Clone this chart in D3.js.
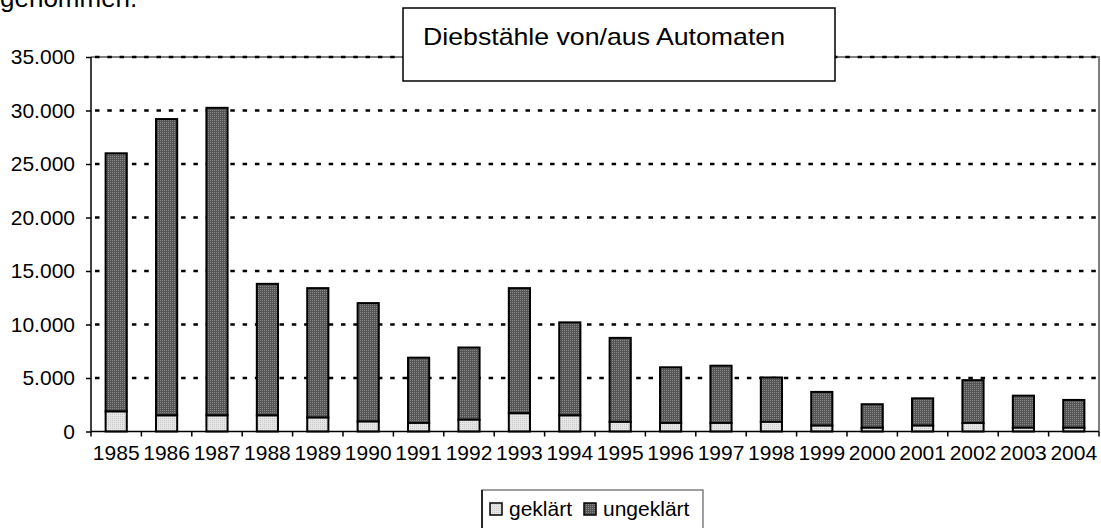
<!DOCTYPE html>
<html>
<head>
<meta charset="utf-8">
<script src="https://cdn.jsdelivr.net/npm/d3@7"></script>
<style>
  body { margin: 0; background: #fff; }
  text { font-family: "Liberation Sans", Arial, sans-serif; }
</style>
</head>
<body>
<div id="chart"></div>
<script>
// Werte
var years = ["1985","1986","1987","1988","1989","1990","1991","1992","1993","1994",
             "1995","1996","1997","1998","1999","2000","2001","2002","2003","2004"];
var geklaert = [1870, 1500, 1500, 1500, 1300, 930, 800, 1100, 1700, 1500,
                900, 800, 800, 900, 550, 350, 550, 800, 350, 350];
var gesamt = [26000, 29200, 30250, 13800, 13400, 12000, 6900, 7850, 13400, 10200,
              8750, 6000, 6150, 5050, 3700, 2550, 3100, 4800, 3350, 2950];
var yTicks = [0, 5000, 10000, 15000, 20000, 25000, 30000, 35000];
var seriesNames = ["geklärt", "ungeklärt"];

var svgWidth = 1101;
var svgHeight = 528;
var plotLeft = 91;
var plotRight = 1099;
var plotTop = 57;
var plotBottom = 431.5;

var svg = d3.select("#chart")
    .append("svg")
    .attr("width", svgWidth)
    .attr("height", svgHeight);

// Schraffuren
var defs = svg.append("defs");
var pDark = defs.append("pattern").attr("id", "dark")
    .attr("width", 2).attr("height", 2).attr("patternUnits", "userSpaceOnUse");
pDark.append("rect").attr("width", 2).attr("height", 2).attr("fill", "#555");
pDark.append("rect").attr("width", 1).attr("height", 1).attr("fill", "#8a8a8a");
var pLight = defs.append("pattern").attr("id", "light")
    .attr("width", 2).attr("height", 2).attr("patternUnits", "userSpaceOnUse");
pLight.append("rect").attr("width", 2).attr("height", 2).attr("fill", "#e6e6e6");
pLight.append("rect").attr("width", 1).attr("height", 1).attr("fill", "#c8c8c8");

var xScale = d3.scaleBand()
    .domain(years)
    .range([plotLeft, plotRight])
    .paddingInner(0.58)
    .paddingOuter(0.29);

var yScale = d3.scaleLinear()
    .domain([0, 35000])
    .range([plotBottom, plotTop]);

// Text oben links (im Original abgeschnitten)
svg.append("text")
    .attr("x", 0)
    .attr("y", 7)
    .attr("font-size", "26px")
    .attr("fill", "#000")
    .text("genommen.");

// Rahmen oben/rechts
svg.append("path")
    .attr("d", `M${plotLeft},${plotTop}H${plotRight}V${plotBottom}`)
    .attr("fill", "none")
    .attr("stroke", "#808080")
    .attr("stroke-width", 2);

// Gitterlinien
svg.append("g").selectAll("line")
    .data(yTicks.filter(d => d > 0))
    .enter()
    .append("line")
    .attr("x1", plotLeft + 4)
    .attr("x2", plotRight)
    .attr("y1", d => yScale(d))
    .attr("y2", d => yScale(d))
    .attr("stroke", "#000")
    .attr("stroke-width", 2.5)
    .attr("stroke-dasharray", "4.5,7.8");

// Balken
var stacked = years.map((y, i) => ({year: y, a: geklaert[i], total: gesamt[i]}));

var bars = svg.append("g");
bars.selectAll("rect.ung")
    .data(stacked)
    .enter()
    .append("rect")
    .attr("class", "ung")
    .attr("x", d => xScale(d.year))
    .attr("width", xScale.bandwidth())
    .attr("y", d => yScale(d.total))
    .attr("height", d => yScale(d.a) - yScale(d.total))
    .attr("fill", "url(#dark)")
    .attr("stroke", "#000")
    .attr("stroke-width", 2);
bars.selectAll("rect.gek")
    .data(stacked)
    .enter()
    .append("rect")
    .attr("class", "gek")
    .attr("x", d => xScale(d.year))
    .attr("width", xScale.bandwidth())
    .attr("y", d => yScale(d.a))
    .attr("height", d => yScale(0) - yScale(d.a))
    .attr("fill", "url(#light)")
    .attr("stroke", "#000")
    .attr("stroke-width", 2);

// Achsen
var yAxis = d3.axisLeft(yScale)
    .tickValues(yTicks)
    .tickSize(5)
    .tickPadding(11)
    .tickFormat(d => d3.format(",")(d).replace(/,/g, "."));
var yAxisGroup = svg.append("g")
    .attr("transform", `translate(${plotLeft},0)`)
    .call(yAxis);
yAxisGroup.select(".domain").attr("d", `M0,${plotTop}V${plotBottom}`)
    .attr("stroke", "#000").attr("stroke-width", 1.5);
yAxisGroup.selectAll(".tick line").attr("stroke", "#000").attr("stroke-width", 1.5);
yAxisGroup.selectAll("text").attr("font-size", "21px").attr("fill", "#000")
    .attr("font-family", "Liberation Sans, Arial, sans-serif");

var xAxis = d3.axisBottom(xScale).tickSize(0).tickPadding(14);
var xAxisGroup = svg.append("g")
    .attr("transform", `translate(0,${plotBottom})`)
    .call(xAxis);
xAxisGroup.select(".domain").attr("d", `M${plotLeft},0H${plotRight}`)
    .attr("stroke", "#000").attr("stroke-width", 1.5);
xAxisGroup.selectAll("text").attr("font-size", "21px").attr("fill", "#000")
    .attr("font-family", "Liberation Sans, Arial, sans-serif");
// Trennstriche zwischen den Kategorien
xAxisGroup.append("g").selectAll("line")
    .data(years.concat(["end"]))
    .enter()
    .append("line")
    .attr("x1", (d, i) => plotLeft + i * xScale.step())
    .attr("x2", (d, i) => plotLeft + i * xScale.step())
    .attr("y1", 0)
    .attr("y2", 5)
    .attr("stroke", "#000")
    .attr("stroke-width", 1.5);

// Titelkasten
svg.append("rect")
    .attr("x", 403).attr("y", 8).attr("width", 432).attr("height", 73)
    .attr("fill", "#fff").attr("stroke", "#000").attr("stroke-width", 1.5);
svg.append("text")
    .attr("x", 423).attr("y", 45)
    .attr("font-size", "24px")
    .attr("textLength", 362)
    .attr("lengthAdjust", "spacingAndGlyphs")
    .attr("fill", "#000")
    .text("Diebstähle von/aus Automaten");

// Legende
var legend = svg.append("g");
legend.append("path")
    .attr("d", "M482,528V490H703V528")
    .attr("fill", "#fff")
    .attr("stroke", "#808080")
    .attr("stroke-width", 1.5);
legend.append("line")
    .attr("x1", 482).attr("x2", 482).attr("y1", 490).attr("y2", 528)
    .attr("stroke", "#000").attr("stroke-width", 1.5);
var legendX = [490, 584];
var legendFill = ["url(#light)", "url(#dark)"];
seriesNames.forEach((name, i) => {
    legend.append("rect")
        .attr("x", legendX[i]).attr("y", 503)
        .attr("width", 12).attr("height", 12)
        .attr("fill", legendFill[i])
        .attr("stroke", "#000").attr("stroke-width", 1.5);
    legend.append("text")
        .attr("x", legendX[i] + 19).attr("y", 516)
        .attr("font-size", "21px")
        .attr("fill", "#000")
        .text(name);
});
</script>
</body>
</html>
